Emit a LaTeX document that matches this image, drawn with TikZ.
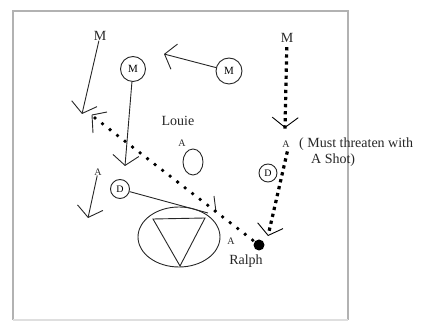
\documentclass[tikz,border=0pt]{standalone}
\usepackage{fontspec}
\setmainfont{Liberation Serif}
\usetikzlibrary{arrows.meta,shapes.geometric}
\begin{document}
\begin{tikzpicture}[x=1pt,y=-1pt,
  >={Straight Barb[length=10pt,width=26pt,line width=0.9pt]},
  ink/.style={line width=0.9pt, draw=black!85},
  lbl/.style={font=\fontsize{14}{16}\selectfont, inner sep=0pt, text=black!85},
  smalllbl/.style={font=\fontsize{10}{12}\selectfont, inner sep=0pt, text=black!85},
  ring/.style={circle, draw=black!85, line width=0.9pt, inner sep=0pt, font=\fontsize{11}{12}\selectfont},
  bigdots/.style={draw=black, line width=3.8pt, line cap=round, dash pattern=on 0pt off 9.5pt},
  sqdots/.style={draw=black, line width=3.2pt, line cap=rect, dash pattern=on 0.1pt off 7pt}
]
\useasboundingbox (0,0) rectangle (432,328);
% frame
\draw[gray!60, line width=1.8pt] (13,320) -- (13,11) -- (348,11) -- (348,320);
\draw[gray!25, line width=1.2pt] (13,320) -- (348,320);

% labels
\node[lbl] (mTL) at (100,36) {M};
\node[lbl] (mTR) at (287,38) {M};
\node[ring, minimum size=25pt] (m1) at (133,69) {M};
\node[ring, minimum size=26pt] (m2) at (229,71) {M};
\node[lbl] (louie) at (178,121) {Louie};
\node[smalllbl] (aLouie) at (182,143) {A};
\node[draw=black!85, line width=0.9pt, ellipse, minimum width=20pt, minimum height=26pt, inner sep=0pt] (ball) at (193,162) {};
\node[smalllbl] (aLeft) at (98,172) {A};
\node[ring, minimum size=19pt, font=\fontsize{10}{12}\selectfont] (d1) at (120,189) {D};
\node[smalllbl] (aRight) at (286,144) {A};
\node[lbl, anchor=west] (note1) at (299,144) {( Must threaten with};
\node[lbl, anchor=west] (note2) at (311,160) {A Shot)};
\node[ring, minimum size=18pt, font=\fontsize{10}{12}\selectfont] (d2) at (268,173) {D};
\node[circle, fill=black, minimum size=11pt, inner sep=0pt] (ralph) at (259,245) {};
\node[smalllbl] (aRalph) at (231,241) {A};
\node[lbl] (ralphlbl) at (246,261) {Ralph};

% field: ellipse with inverted triangle
\node[draw=black!85, line width=0.9pt, ellipse, minimum width=82pt, minimum height=60pt, inner sep=0pt] (field) at (179,237) {};
\coordinate (tA) at (153,219);
\coordinate (tB) at (205,218);
\coordinate (tC) at (180,266);
\draw[ink] (tA) -- (tB) -- (tC) -- cycle;

% coordinates
\coordinate (tip1) at (82,114);
\coordinate (tip2) at (125,166);
\coordinate (tip3) at (164,54);
\coordinate (tip4) at (88,218);
\coordinate (tip5) at (285,128);
\coordinate (tip6) at (268,236);
\coordinate (dstart) at (95,118);
\coordinate (rstart) at (287,153);
\coordinate (dend) at (208,213);
\coordinate (s1) at (92,115);
\coordinate (s2) at (107,112);
\coordinate (s3) at (93,133);
\coordinate (k1) at (214,196);
\coordinate (k2) at (216,212);

% solid arrows
\draw[ink, ->] (mTL) -- (tip1);
\draw[ink, ->] (m1) -- (tip2);
\draw[ink, ->] (m2) -- (tip3);
\draw[ink, ->] (aLeft) -- (tip4);
\draw[ink] (d1) -- (dend);
\draw[ink] (s1) -- (s2);
\draw[ink] (s1) -- (s3);
\draw[ink] (k1) -- (k2);

% dotted paths
\draw[bigdots] (dstart) -- (ralph);
\draw[sqdots, ->, shorten <=6pt] (mTR) -- (tip5);
\draw[sqdots, ->] (rstart) -- (tip6);
\end{tikzpicture}
\end{document}
